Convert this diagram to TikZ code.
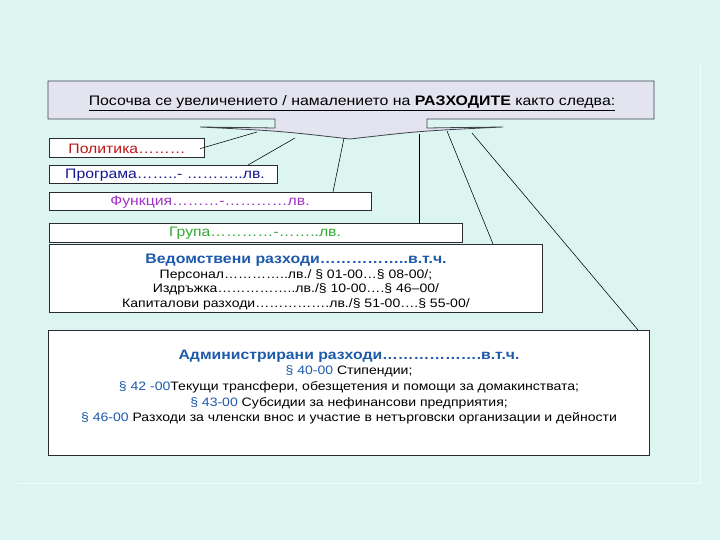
\documentclass[tikz,border=0pt]{standalone}
\usepackage{fontspec}
\setmainfont[FakeStretch=1.15]{Liberation Sans}
\usetikzlibrary{calc}
\definecolor{bg}{RGB}{221,245,240}
\definecolor{frameline}{RGB}{238,252,250}
\definecolor{headfill}{RGB}{228,228,240}
\definecolor{headline}{RGB}{60,66,74}
\definecolor{boxline}{RGB}{40,44,48}
\definecolor{polred}{RGB}{192,20,20}
\definecolor{progblue}{RGB}{20,20,150}
\definecolor{funcpurple}{RGB}{160,50,200}
\definecolor{grpgreen}{RGB}{50,170,50}
\definecolor{titleblue}{RGB}{30,90,170}
\begin{document}
\begin{tikzpicture}[x=1pt,y=-1pt,
  box/.style={draw=boxline,line width=0.8pt,fill=white,inner sep=0pt,outer sep=0pt},
  lbl/.style={inner sep=0pt,font=\fontsize{13.7}{15}\selectfont},
  conn/.style={draw=black,line width=0.55pt}]
\useasboundingbox (0,0) rectangle (720,540);
\fill[bg] (0,0) rectangle (720,540);
% faint frame
\draw[frameline,line width=0.8pt] (700,62) -- (700,483) -- (18,483);
% callout header
\filldraw[fill=headfill,draw=headline,line width=0.8pt]
  (48,81) -- (654,81) -- (654,119) -- (427,119) -- (427,128)
  .. controls (460,127.5) .. (503,127)
  .. controls (420,131) .. (350,139)
  .. controls (280,131) .. (200,127)
  .. controls (240,127.5) .. (275,128)
  -- (275,119) -- (48,119) -- cycle;
\node[inner sep=0pt,font=\fontsize{13.8}{17}\selectfont] (head) at (352,103)
  {\underline{Посочва се увеличението / намалението на \textbf{РАЗХОДИТЕ} както следва:}};
% boxes
\node[box,minimum width=155pt,minimum height=19pt] (pol) at (126.5,147.5) {};
\node[box,minimum width=228pt,minimum height=18pt] (prog) at (163,174) {};
\node[box,minimum width=322pt,minimum height=18pt] (func) at (210,201) {};
\node[box,minimum width=413pt,minimum height=19pt] (grp) at (255.5,232.5) {};
\node[box,minimum width=493pt,minimum height=68pt] (ved) at (295.5,278) {};
\node[box,minimum width=601pt,minimum height=125pt] (adm) at (348.5,392.5) {};
% labels
\node[lbl,text=polred] (poltext) at (127,148.5) {Политика………};
\node[lbl,text=progblue] (progtext) at (165,175) {Програма……..- ………..лв.};
\node[lbl,text=funcpurple] (functext) at (210,202) {Функция………-…………лв.};
\node[lbl,text=grpgreen] (grptext) at (255,233.5) {Група…………-……..лв.};
\node[lbl,align=center,font=\fontsize{12.2}{14.6}\selectfont] (vedtext) at (296,282)
  {{\fontsize{13.8}{14.6}\selectfont\bfseries\color{titleblue}Ведомствени разходи……………..в.т.ч.}\\
   Персонал…………..лв./ § 01-00…§ 08-00/;\\
   Издръжка……………..лв./§ 10-00….§ 46–00/\\
   Капиталови разходи…………….лв./§ 51-00….§ 55-00/};
\node[lbl,align=center,font=\fontsize{12.2}{15.6}\selectfont] (admtext) at (349,387)
  {{\fontsize{13.7}{15.6}\selectfont\bfseries\color{titleblue}Администрирани разходи……………….в.т.ч.}\\
   {\color{titleblue}§ 40-00} Стипендии;\\
   {\color{titleblue}§ 42 -00}Текущи трансфери, обезщетения и помощи за домакинствата;\\
   {\color{titleblue}§ 43-00} Субсидии за нефинансови предприятия;\\
   {\color{titleblue}§ 46-00} Разходи за членски внос и участие в нетърговски организации и дейности};
% connector start points on the callout
\coordinate (c1) at (257,132);
\coordinate (c2) at (295,138);
\coordinate (c3) at (344,138);
\coordinate (c4) at (419,134);
\coordinate (c5) at (447,131);
\coordinate (c6) at (472,133);
% connectors
\draw[conn,shorten >=-4pt] (c1) -- (pol.east);
\draw[conn] (c2) -- ([xshift=199pt]prog.north west);
\draw[conn] (c3) -- ([xshift=284pt]func.north west);
\draw[conn] (c4) -- (c4 |- grp.north);
\draw[conn] (c5) -- ([xshift=444pt]ved.north west);
\draw[conn] (c6) -- ([xshift=590pt]adm.north west);
\end{tikzpicture}
\end{document}
